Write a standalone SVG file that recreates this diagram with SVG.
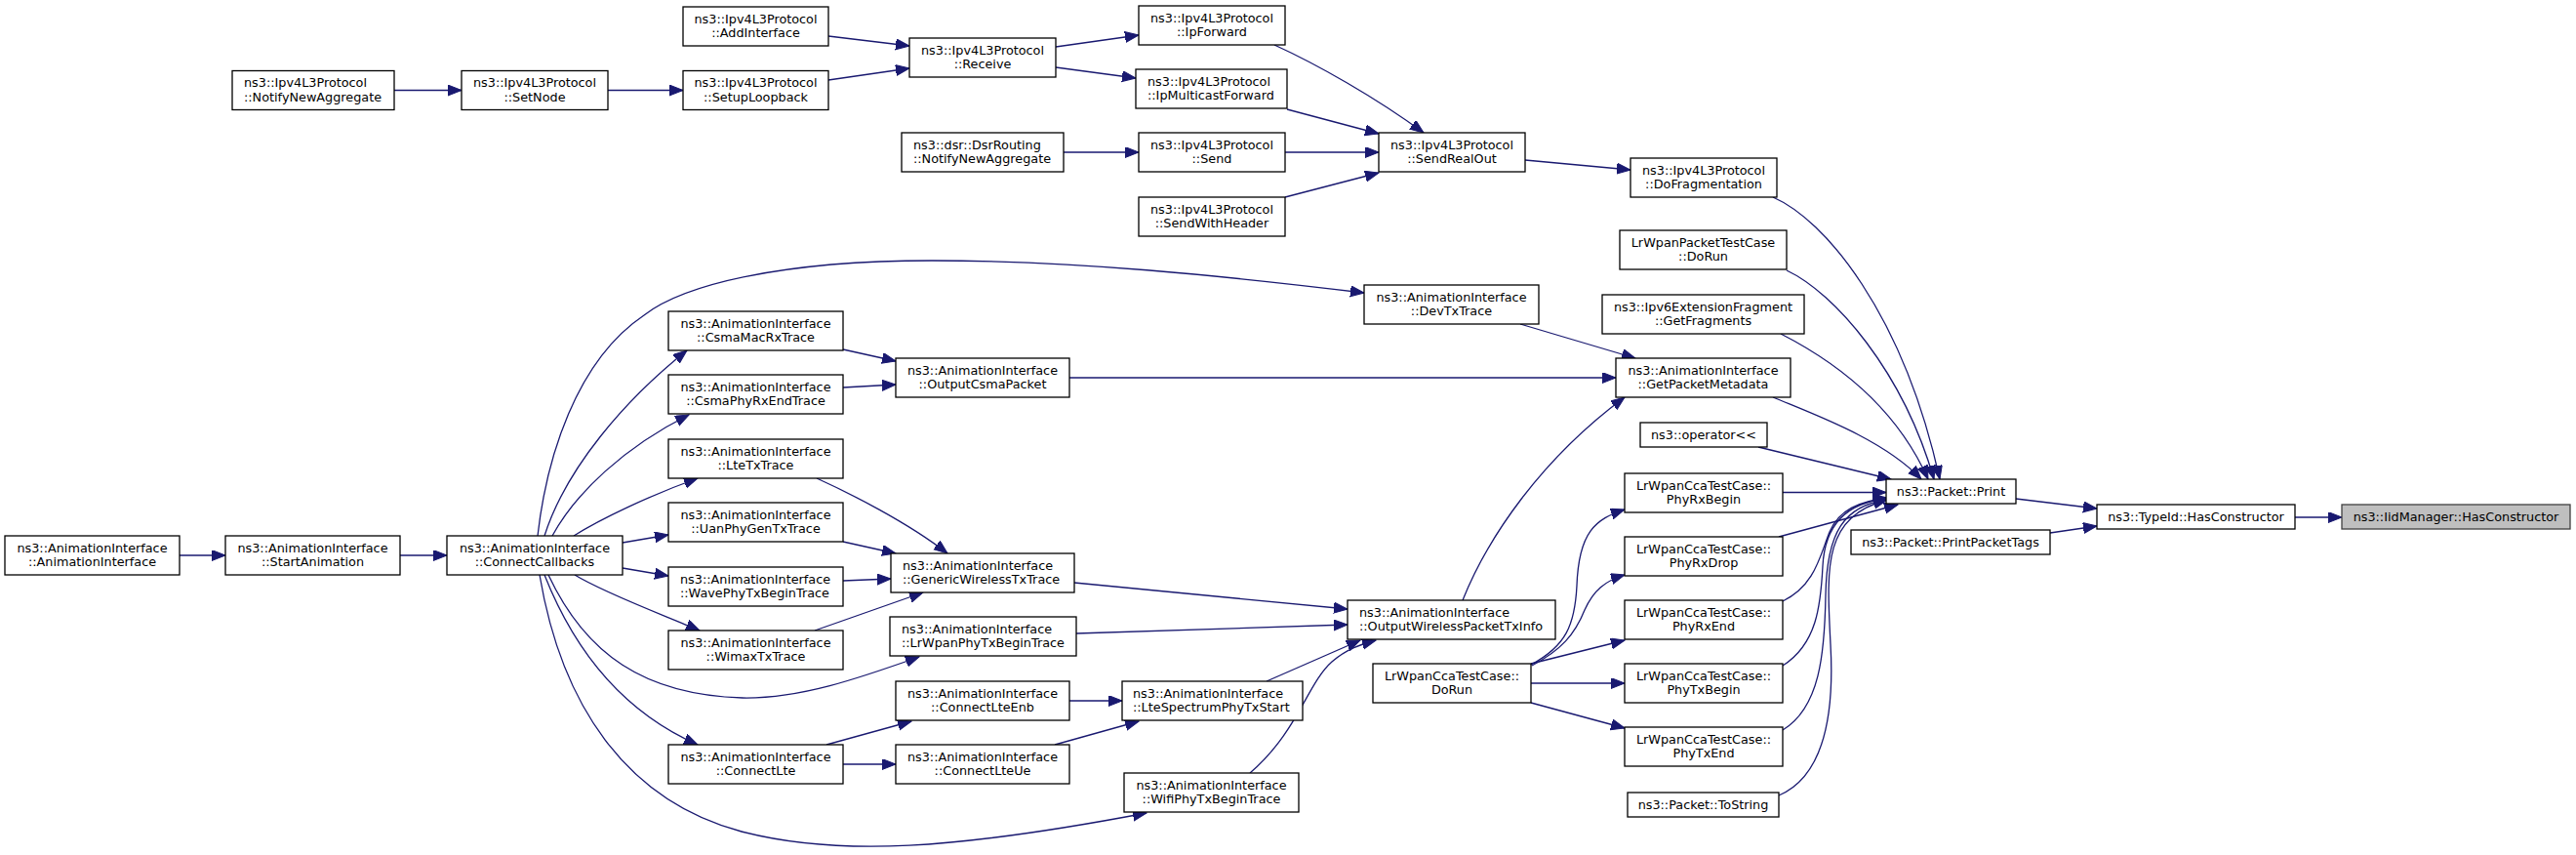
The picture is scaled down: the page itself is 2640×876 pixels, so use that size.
<svg xmlns="http://www.w3.org/2000/svg" width="2640" height="876" viewBox="0 0 2640 876">
<style>
.node rect{fill:#ffffff;stroke:#000000;stroke-width:1.3}
.node text{font-family:"DejaVu Sans","Liberation Sans",sans-serif;font-size:12.8px;fill:#000000}
.c{text-anchor:middle}
.l{text-anchor:start}
#edges path{fill:none;stroke:#191970;stroke-width:1.3;marker-end:url(#ah)}
#n27 rect{fill:#bfbfbf;stroke:#404040}
</style>
<defs>
<marker id="ah" markerUnits="userSpaceOnUse" markerWidth="16" markerHeight="12" refX="14" refY="5.5" orient="auto">
<path d="M0,0 L14,5.5 L0,11 Z" fill="#191970" stroke="#191970" stroke-width="1"/>
</marker>
</defs>
<rect x="0" y="0" width="2640" height="876" fill="#ffffff"/>
<g id="edges">
<path d="M404,92.5 L473,92.5"/>
<path d="M623,92.5 L700,92.5"/>
<path d="M849,37 L932,47"/>
<path d="M849,82 L932,70"/>
<path d="M1082,48 L1167,36"/>
<path d="M1082,69 L1164,80"/>
<path d="M1306,46 C1350,66 1410,100 1459,136"/>
<path d="M1319,112 L1413,137"/>
<path d="M1090,156 L1167,156"/>
<path d="M1317,156 L1413,156"/>
<path d="M1317,202 L1413,177"/>
<path d="M1563,164 L1671,174"/>
<path d="M1817,202 C1870,225 1950,320 1988,491"/>
<path d="M1831,277 C1880,300 1950,380 1982,491"/>
<path d="M1825,342 C1870,365 1940,410 1976,491"/>
<path d="M1817,407 C1860,425 1930,450 1969,491"/>
<path d="M1802,458 L1938,491"/>
<path d="M1827,504.5 L1933,504.5"/>
<path d="M1823,550 L1945,517"/>
<path d="M1827,616 C1860,600 1865,570 1875,545 C1885,522 1905,514 1934,510"/>
<path d="M1827,682 C1862,660 1866,620 1868,580 C1870,540 1890,515 1934,511"/>
<path d="M1827,748 C1865,725 1870,670 1871,610 C1872,545 1890,518 1934,512"/>
<path d="M1823,815 C1870,795 1880,730 1876,660 C1872,580 1868,530 1934,512"/>
<path d="M2066,511 L2149,521"/>
<path d="M2101,546 L2149,539"/>
<path d="M2352,530 L2400,530"/>
<path d="M184,569 L231,569"/>
<path d="M410,569 L458,569"/>
<path d="M551,549 C560,470 590,370 660,323 C700,292 800,267 955,267 C1100,267 1250,282 1398,300"/>
<path d="M558,549 C580,480 640,410 704,359"/>
<path d="M566,549 C590,505 640,458 706,425"/>
<path d="M588,549 C615,532 665,508 715,490"/>
<path d="M638,556 L685,548"/>
<path d="M638,582 L685,590"/>
<path d="M589,589 C620,608 680,630 717,646"/>
<path d="M562,589 C600,670 660,712 761,715 C820,716 880,695 942,673"/>
<path d="M558,589 C590,670 640,730 715,763"/>
<path d="M553,589 C575,720 640,820 760,852 C860,878 980,870 1175,833"/>
<path d="M864,358 L918,370"/>
<path d="M864,397 L918,394"/>
<path d="M1096,387 L1656,387"/>
<path d="M1558,332 L1676,367"/>
<path d="M837,490 C870,505 930,535 971,567"/>
<path d="M864,555 L918,567"/>
<path d="M864,595 L913,593"/>
<path d="M835,646 L946,607"/>
<path d="M1101,597 L1381,624"/>
<path d="M1103,649 L1381,640"/>
<path d="M1298,698 L1394,656"/>
<path d="M1281,792 C1330,750 1340,700 1365,678 C1380,665 1395,660 1410,656"/>
<path d="M1499,615 C1525,550 1580,470 1665,407"/>
<path d="M847,763 L934,739"/>
<path d="M864,783 L918,783"/>
<path d="M1096,718 L1150,718"/>
<path d="M1081,763 L1167,739"/>
<path d="M1569,681 C1605,662 1614,640 1616,600 C1618,545 1635,532 1665,522"/>
<path d="M1570,682 C1600,666 1614,650 1624,625 C1633,605 1645,595 1665,589"/>
<path d="M1569,680 L1665,656"/>
<path d="M1569,700 L1665,700"/>
<path d="M1569,720 L1665,746"/>
</g>
<g id="n1" class="node"><rect x="238" y="72.5" width="166" height="40"/><text class="l" x="250" y="89">ns3::Ipv4L3Protocol</text><text class="l" x="250" y="103.5">::NotifyNewAggregate</text></g>
<g id="n2" class="node"><rect x="473" y="72.5" width="150" height="40"/><text class="c" x="548" y="89">ns3::Ipv4L3Protocol</text><text class="c" x="548" y="103.5">::SetNode</text></g>
<g id="n3" class="node"><rect x="700" y="7" width="149" height="40"/><text class="c" x="774.5" y="23.5">ns3::Ipv4L3Protocol</text><text class="c" x="774.5" y="38">::AddInterface</text></g>
<g id="n4" class="node"><rect x="700" y="72.5" width="149" height="40"/><text class="c" x="774.5" y="89">ns3::Ipv4L3Protocol</text><text class="c" x="774.5" y="103.5">::SetupLoopback</text></g>
<g id="n5" class="node"><rect x="932" y="39" width="150" height="40"/><text class="c" x="1007" y="55.5">ns3::Ipv4L3Protocol</text><text class="c" x="1007" y="70">::Receive</text></g>
<g id="n6" class="node"><rect x="1167" y="6" width="150" height="40"/><text class="c" x="1242" y="22.5">ns3::Ipv4L3Protocol</text><text class="c" x="1242" y="37">::IpForward</text></g>
<g id="n7" class="node"><rect x="1164" y="71" width="155" height="40"/><text class="l" x="1176" y="87.5">ns3::Ipv4L3Protocol</text><text class="l" x="1176" y="102">::IpMulticastForward</text></g>
<g id="n8" class="node"><rect x="924" y="136" width="166" height="40"/><text class="l" x="936" y="152.5">ns3::dsr::DsrRouting</text><text class="l" x="936" y="167">::NotifyNewAggregate</text></g>
<g id="n9" class="node"><rect x="1167" y="136" width="150" height="40"/><text class="c" x="1242" y="152.5">ns3::Ipv4L3Protocol</text><text class="c" x="1242" y="167">::Send</text></g>
<g id="n10" class="node"><rect x="1167" y="202" width="150" height="40"/><text class="c" x="1242" y="218.5">ns3::Ipv4L3Protocol</text><text class="c" x="1242" y="233">::SendWithHeader</text></g>
<g id="n11" class="node"><rect x="1413" y="136" width="150" height="40"/><text class="c" x="1488" y="152.5">ns3::Ipv4L3Protocol</text><text class="c" x="1488" y="167">::SendRealOut</text></g>
<g id="n12" class="node"><rect x="1671" y="162" width="150" height="40"/><text class="c" x="1746" y="178.5">ns3::Ipv4L3Protocol</text><text class="c" x="1746" y="193">::DoFragmentation</text></g>
<g id="n13" class="node"><rect x="1660" y="236" width="171" height="40"/><text class="c" x="1745.5" y="252.5">LrWpanPacketTestCase</text><text class="c" x="1745.5" y="267">::DoRun</text></g>
<g id="n14" class="node"><rect x="1642" y="302" width="207" height="40"/><text class="c" x="1745.5" y="318.5">ns3::Ipv6ExtensionFragment</text><text class="c" x="1745.5" y="333">::GetFragments</text></g>
<g id="n15" class="node"><rect x="1398" y="292" width="179" height="40"/><text class="c" x="1487.5" y="308.5">ns3::AnimationInterface</text><text class="c" x="1487.5" y="323">::DevTxTrace</text></g>
<g id="n16" class="node"><rect x="1656" y="367" width="179" height="40"/><text class="c" x="1745.5" y="383.5">ns3::AnimationInterface</text><text class="c" x="1745.5" y="398">::GetPacketMetadata</text></g>
<g id="n17" class="node"><rect x="1681" y="433" width="130" height="25"/><text class="c" x="1746" y="449.5">ns3::operator&lt;&lt;</text></g>
<g id="n18" class="node"><rect x="1665" y="485" width="162" height="40"/><text class="c" x="1746" y="501.5">LrWpanCcaTestCase::</text><text class="c" x="1746" y="516">PhyRxBegin</text></g>
<g id="n19" class="node"><rect x="1665" y="550" width="162" height="40"/><text class="c" x="1746" y="566.5">LrWpanCcaTestCase::</text><text class="c" x="1746" y="581">PhyRxDrop</text></g>
<g id="n20" class="node"><rect x="1665" y="615" width="162" height="40"/><text class="c" x="1746" y="631.5">LrWpanCcaTestCase::</text><text class="c" x="1746" y="646">PhyRxEnd</text></g>
<g id="n21" class="node"><rect x="1665" y="680" width="162" height="40"/><text class="c" x="1746" y="696.5">LrWpanCcaTestCase::</text><text class="c" x="1746" y="711">PhyTxBegin</text></g>
<g id="n22" class="node"><rect x="1665" y="745" width="162" height="40"/><text class="c" x="1746" y="761.5">LrWpanCcaTestCase::</text><text class="c" x="1746" y="776">PhyTxEnd</text></g>
<g id="n23" class="node"><rect x="1668" y="812" width="155" height="25"/><text class="c" x="1745.5" y="828.5">ns3::Packet::ToString</text></g>
<g id="n24" class="node"><rect x="1933" y="491" width="133" height="25"/><text class="c" x="1999.5" y="507.5">ns3::Packet::Print</text></g>
<g id="n25" class="node"><rect x="1897" y="543" width="204" height="25"/><text class="c" x="1999" y="559.5">ns3::Packet::PrintPacketTags</text></g>
<g id="n26" class="node"><rect x="2149" y="517" width="203" height="25"/><text class="c" x="2250.5" y="533.5">ns3::TypeId::HasConstructor</text></g>
<g id="n27" class="node"><rect x="2400" y="517" width="234" height="25"/><text class="c" x="2517" y="533.5">ns3::IidManager::HasConstructor</text></g>
<g id="n28" class="node"><rect x="5" y="549" width="179" height="40"/><text class="c" x="94.5" y="565.5">ns3::AnimationInterface</text><text class="c" x="94.5" y="580">::AnimationInterface</text></g>
<g id="n29" class="node"><rect x="231" y="549" width="179" height="40"/><text class="c" x="320.5" y="565.5">ns3::AnimationInterface</text><text class="c" x="320.5" y="580">::StartAnimation</text></g>
<g id="n30" class="node"><rect x="458" y="549" width="180" height="40"/><text class="c" x="548" y="565.5">ns3::AnimationInterface</text><text class="c" x="548" y="580">::ConnectCallbacks</text></g>
<g id="n31" class="node"><rect x="685" y="319" width="179" height="40"/><text class="c" x="774.5" y="335.5">ns3::AnimationInterface</text><text class="c" x="774.5" y="350">::CsmaMacRxTrace</text></g>
<g id="n32" class="node"><rect x="685" y="384" width="179" height="40"/><text class="c" x="774.5" y="400.5">ns3::AnimationInterface</text><text class="c" x="774.5" y="415">::CsmaPhyRxEndTrace</text></g>
<g id="n33" class="node"><rect x="918" y="367" width="178" height="40"/><text class="c" x="1007" y="383.5">ns3::AnimationInterface</text><text class="c" x="1007" y="398">::OutputCsmaPacket</text></g>
<g id="n34" class="node"><rect x="685" y="450" width="179" height="40"/><text class="c" x="774.5" y="466.5">ns3::AnimationInterface</text><text class="c" x="774.5" y="481">::LteTxTrace</text></g>
<g id="n35" class="node"><rect x="685" y="515" width="179" height="40"/><text class="c" x="774.5" y="531.5">ns3::AnimationInterface</text><text class="c" x="774.5" y="546">::UanPhyGenTxTrace</text></g>
<g id="n36" class="node"><rect x="685" y="581" width="179" height="40"/><text class="l" x="697" y="597.5">ns3::AnimationInterface</text><text class="l" x="697" y="612">::WavePhyTxBeginTrace</text></g>
<g id="n37" class="node"><rect x="685" y="646" width="179" height="40"/><text class="c" x="774.5" y="662.5">ns3::AnimationInterface</text><text class="c" x="774.5" y="677">::WimaxTxTrace</text></g>
<g id="n38" class="node"><rect x="685" y="763" width="179" height="40"/><text class="c" x="774.5" y="779.5">ns3::AnimationInterface</text><text class="c" x="774.5" y="794">::ConnectLte</text></g>
<g id="n39" class="node"><rect x="913" y="567" width="188" height="40"/><text class="l" x="925" y="583.5">ns3::AnimationInterface</text><text class="l" x="925" y="598">::GenericWirelessTxTrace</text></g>
<g id="n40" class="node"><rect x="912" y="632" width="191" height="40"/><text class="l" x="924" y="648.5">ns3::AnimationInterface</text><text class="l" x="924" y="663">::LrWpanPhyTxBeginTrace</text></g>
<g id="n41" class="node"><rect x="918" y="698" width="178" height="40"/><text class="c" x="1007" y="714.5">ns3::AnimationInterface</text><text class="c" x="1007" y="729">::ConnectLteEnb</text></g>
<g id="n42" class="node"><rect x="918" y="763" width="178" height="40"/><text class="c" x="1007" y="779.5">ns3::AnimationInterface</text><text class="c" x="1007" y="794">::ConnectLteUe</text></g>
<g id="n43" class="node"><rect x="1150" y="698" width="185" height="40"/><text class="l" x="1161" y="714.5">ns3::AnimationInterface</text><text class="l" x="1161" y="729">::LteSpectrumPhyTxStart</text></g>
<g id="n44" class="node"><rect x="1152" y="792" width="179" height="40"/><text class="c" x="1241.5" y="808.5">ns3::AnimationInterface</text><text class="c" x="1241.5" y="823">::WifiPhyTxBeginTrace</text></g>
<g id="n45" class="node"><rect x="1381" y="615" width="213" height="40"/><text class="l" x="1393" y="631.5">ns3::AnimationInterface</text><text class="l" x="1393" y="646">::OutputWirelessPacketTxInfo</text></g>
<g id="n46" class="node"><rect x="1407" y="680" width="162" height="40"/><text class="c" x="1488" y="696.5">LrWpanCcaTestCase::</text><text class="c" x="1488" y="711">DoRun</text></g>
</svg>
